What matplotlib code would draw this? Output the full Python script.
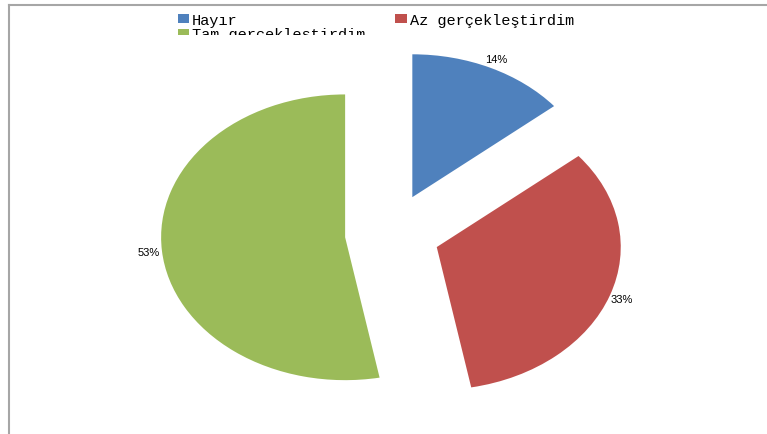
import matplotlib
matplotlib.use('Agg')
import matplotlib.pyplot as plt
from matplotlib.lines import Line2D
from matplotlib.transforms import Bbox

labels = ['Hayır', 'Az gerçekleştirdim', 'Tam gerçekleştirdim']
values = [14, 33, 53]
colors = ['#4F81BD', '#C0504D', '#9BBB59']
explode = [0.285, 0.27, 0.245]

W, H = 767, 435
fig = plt.figure(figsize=(W / 100, H / 100), dpi=100)

# axes placed so the pie centre sits near (390, 235) px, stretched into an ellipse
ax = fig.add_axes([(390 - 276) / W, 0, 552 / W, 400 / H])
wedges, texts = ax.pie(values, colors=colors, explode=explode, startangle=90,
                       counterclock=False, labels=[f'{v}%' for v in values],
                       labeldistance=1.07,
                       textprops=dict(fontsize=8, family='Liberation Sans'))
for t in texts:
    t.set_ha('center')
    t.set_va('center')
ax.set_aspect('auto')
ax.set_xlim(-1.5, 1.5)
ax.set_ylim(-1.4, 1.4)
ax.axis('off')

# legend, row order Hayır / Az on top, Tam below (column-wise fill)
order = [0, 2, 1]
leg = fig.legend([wedges[i] for i in order], [labels[i] for i in order],
                 loc='upper left', bbox_to_anchor=(170 / W, 1 - 6 / H),
                 ncol=2, frameon=False, handlelength=0.75, handleheight=0.5,
                 handletextpad=0.2, columnspacing=1.95, labelspacing=0.05,
                 borderpad=0, prop=dict(family='Liberation Mono', size=11))

# second legend row is cut off in the original
clip = Bbox.from_extents(0, H - 35.5, W, H)
for a in list(leg.get_texts()) + list(leg.legend_handles):
    a.set_clip_box(clip)
    a.set_clip_on(True)

# outer frame (left and top edges)
fig.add_artist(Line2D([8.5 / W, 8.5 / W], [0, 1 - 6 / H], color='#a6a6a6', lw=1.5,
                      transform=fig.transFigure))
fig.add_artist(Line2D([8.5 / W, 1], [1 - 6 / H, 1 - 6 / H], color='#a6a6a6', lw=1.5,
                      transform=fig.transFigure))

fig.savefig('out.png', dpi=100)
